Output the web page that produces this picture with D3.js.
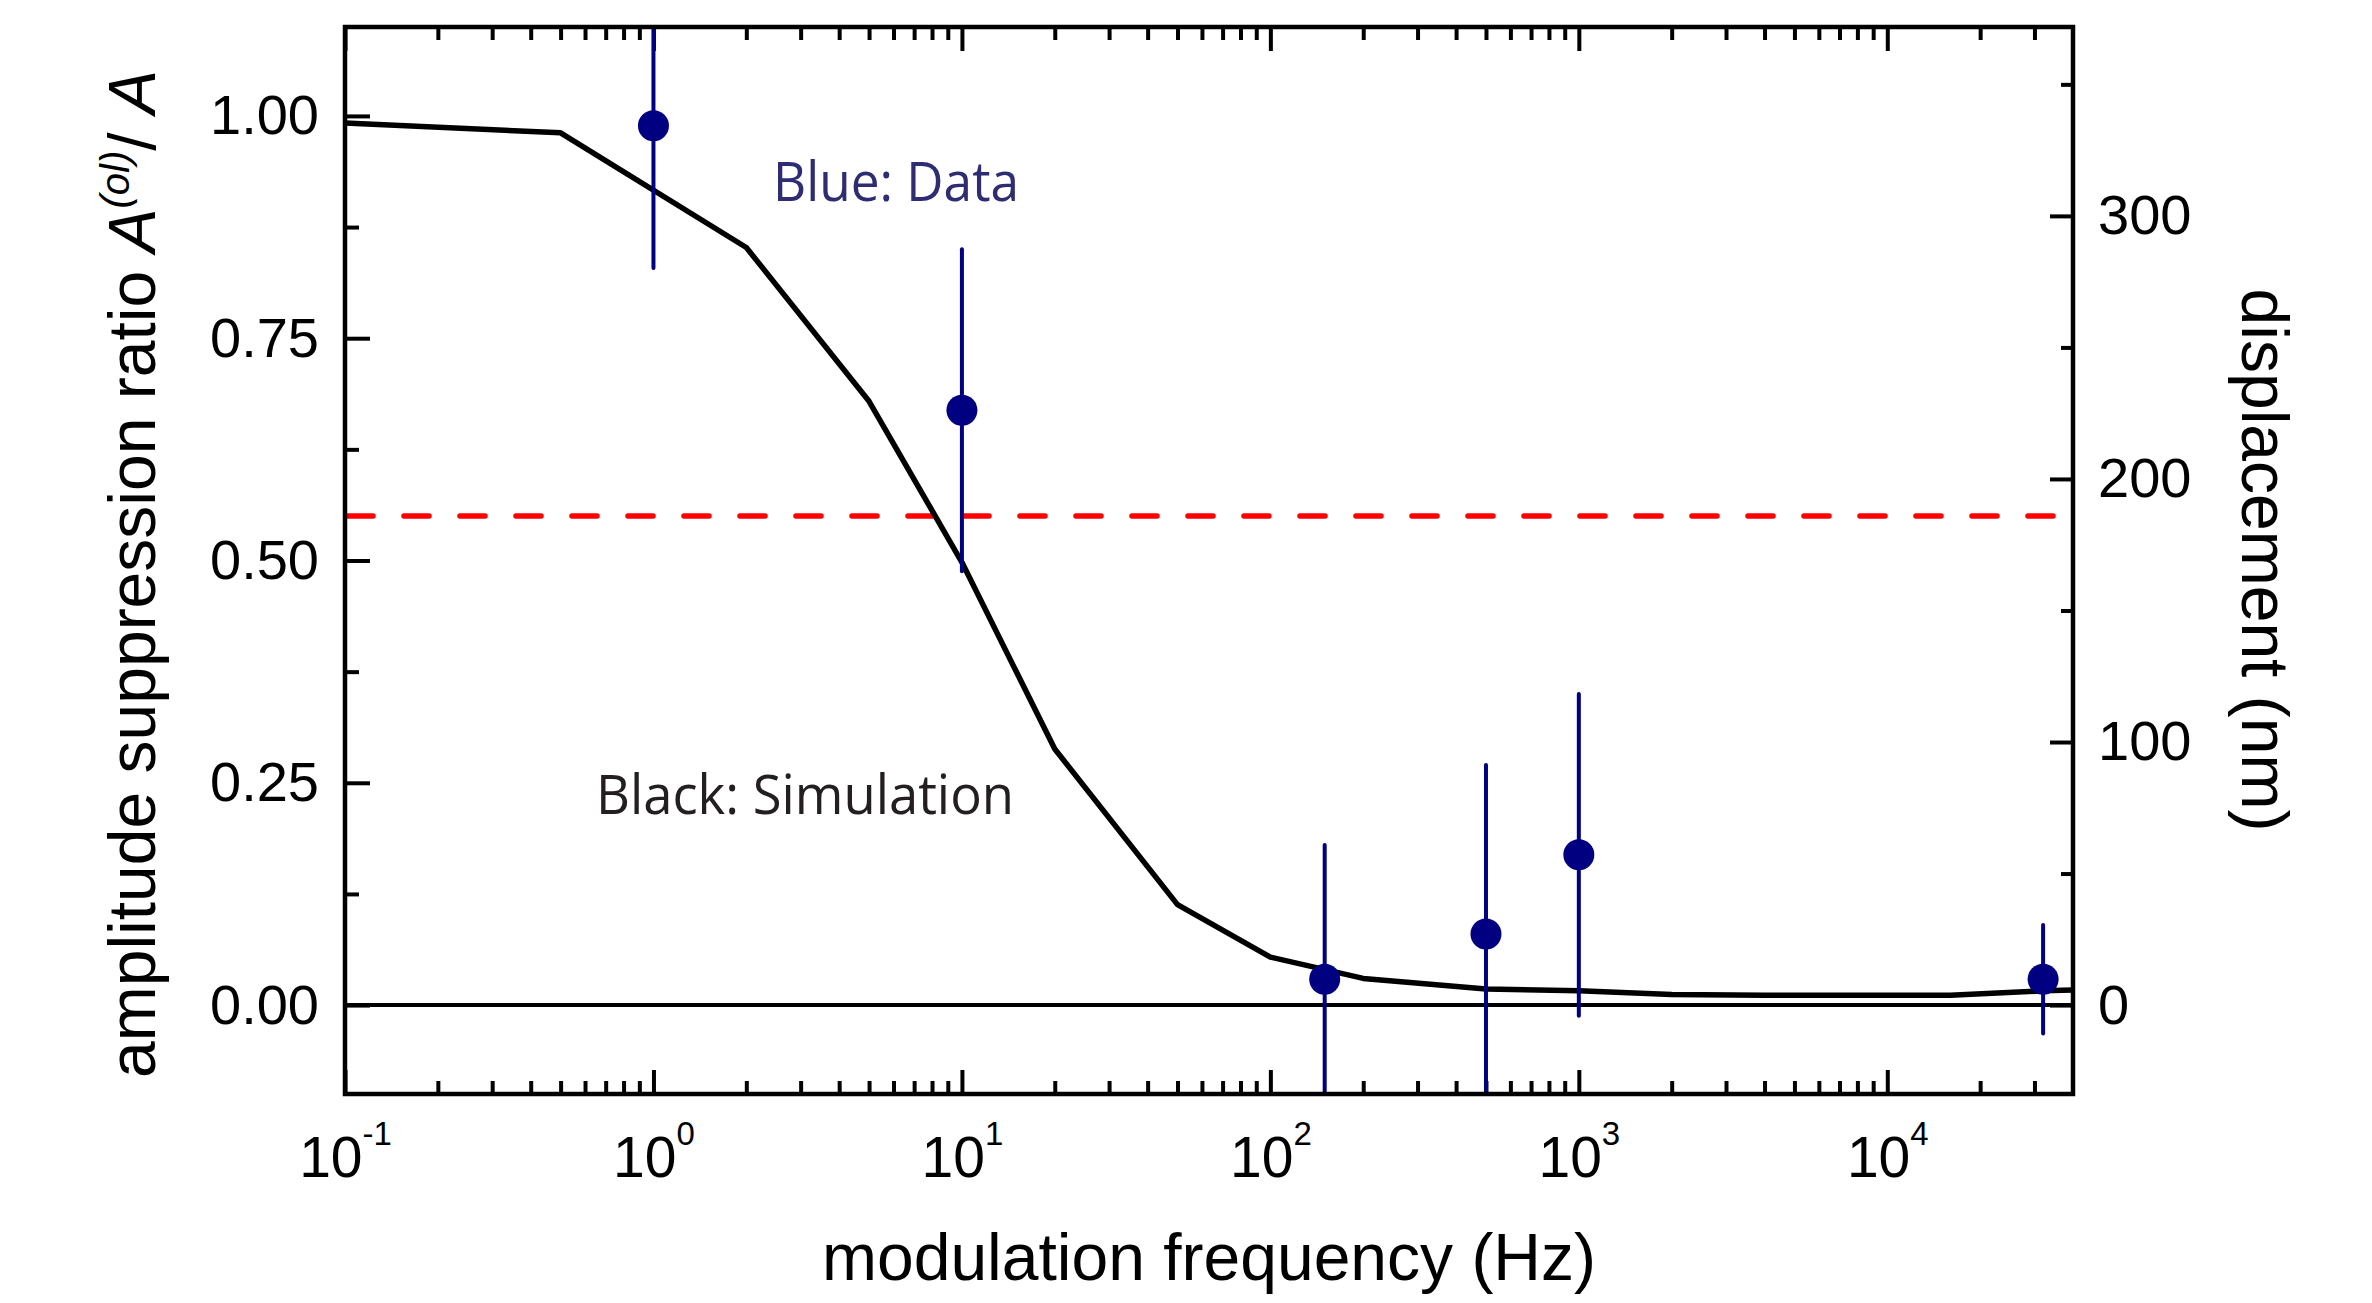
<!DOCTYPE html>
<html>
<head>
<meta charset="utf-8">
<script src="https://cdn.jsdelivr.net/npm/d3@7"></script>
<style>
  body { margin: 0; background: #fff; }
  text { font-family: "Liberation Sans", Arial, sans-serif; }
  .note { font-family: "Open Sans", "Noto Sans", sans-serif; }
</style>
</head>
<body>
<div id="container"></div>
<script>
const w = 2372;
const h = 1303;

// measured points (blue)
const dataFreq = [1, 10, 150, 500, 1000, 32000];
const dataRatio = [0.989, 0.669, 0.029, 0.080, 0.169, 0.029];
const dataErr = [0.16, 0.181, 0.151, 0.19, 0.181, 0.061];

// simulation curve (black)
const simFreq = [0.1, 0.5, 2, 5, 10, 20, 50, 100, 200, 500, 1000, 2000, 4000, 16000, 32000, 40000];
const simRatio = [0.992, 0.981, 0.852, 0.679, 0.498, 0.288, 0.113, 0.054, 0.030, 0.018, 0.016, 0.012, 0.011, 0.011, 0.016, 0.017];

const thresholdRatio = 0.55;

const xMajor = [0.1, 1, 10, 100, 1000, 10000];
const xExp = ["-1", "0", "1", "2", "3", "4"];
const yMajor = [0, 0.25, 0.5, 0.75, 1.0];
const yMinor = [0.125, 0.375, 0.625, 0.875];
const nmMajor = [0, 100, 200, 300];
const nmMinor = [50, 150, 250, 350];
const nmPerUnit = 338;

const pLeft = 345, pRight = 2073, pTop = 27, pBottom = 1094;

const x = d3.scaleLog().domain([0.1, 40000]).range([pLeft, pRight]);
const y = d3.scaleLinear().domain([-0.1, 1.1]).range([pBottom, pTop]);
const yNm = d3.scaleLinear().domain([-0.1 * nmPerUnit, 1.1 * nmPerUnit]).range([pBottom, pTop]);

const xMinor = [];
xMajor.forEach(d => {
  for (let k = 2; k <= 9; k++) {
    if (d * k < 40000) xMinor.push(d * k);
  }
});

const svg = d3.select("#container")
  .append("svg")
  .attr("width", w)
  .attr("height", h);

svg.append("defs").append("clipPath")
  .attr("id", "plot")
  .append("rect")
  .attr("x", pLeft).attr("y", pTop)
  .attr("width", pRight - pLeft).attr("height", pBottom - pTop);

function styleAxis(g) {
  g.select(".domain").remove();
  g.selectAll(".tick line").attr("stroke", "#000").attr("stroke-width", 4);
  g.selectAll(".tick text").attr("fill", "#000");
}

// bottom
svg.append("g")
  .attr("transform", "translate(0," + pBottom + ")")
  .call(d3.axisBottom(x).tickValues(xMinor).tickSizeInner(-13).tickSizeOuter(0).tickFormat(""))
  .call(styleAxis);

const xAxisG = svg.append("g")
  .attr("transform", "translate(0," + pBottom + ")")
  .call(d3.axisBottom(x).tickValues(xMajor).tickSizeInner(-24).tickSizeOuter(0))
  .call(styleAxis);

xAxisG.selectAll(".tick text")
  .text(null)
  .attr("y", 83)
  .attr("dy", null)
  .style("font-size", "57px")
  .each(function (d, i) {
    const t = d3.select(this);
    t.append("tspan").text("10");
    t.append("tspan").text(xExp[i]).style("font-size", "33px").attr("dy", -32);
  });

// top (mirror)
svg.append("g")
  .attr("transform", "translate(0," + pTop + ")")
  .call(d3.axisTop(x).tickValues(xMinor).tickSizeInner(-13).tickSizeOuter(0).tickFormat(""))
  .call(styleAxis);
svg.append("g")
  .attr("transform", "translate(0," + pTop + ")")
  .call(d3.axisTop(x).tickValues(xMajor).tickSizeInner(-24).tickSizeOuter(0).tickFormat(""))
  .call(styleAxis);

// left
svg.append("g")
  .attr("transform", "translate(" + pLeft + ",0)")
  .call(d3.axisLeft(y).tickValues(yMinor).tickSizeInner(-14).tickSizeOuter(0).tickFormat(""))
  .call(styleAxis);
svg.append("g")
  .attr("transform", "translate(" + pLeft + ",0)")
  .call(d3.axisLeft(y).tickValues(yMajor).tickSizeInner(-25).tickSizeOuter(0).tickPadding(26).tickFormat(d3.format(".2f")))
  .call(styleAxis)
  .selectAll(".tick text")
  .style("font-size", "56px");

// right
svg.append("g")
  .attr("transform", "translate(" + pRight + ",0)")
  .call(d3.axisRight(yNm).tickValues(nmMinor).tickSizeInner(-12).tickSizeOuter(0).tickFormat(""))
  .call(styleAxis);
svg.append("g")
  .attr("transform", "translate(" + pRight + ",0)")
  .call(d3.axisRight(yNm).tickValues(nmMajor).tickSizeInner(-23).tickSizeOuter(0).tickPadding(25))
  .call(styleAxis)
  .selectAll(".tick text")
  .style("font-size", "56px");

const plot = svg.append("g").attr("clip-path", "url(#plot)");

// zero line
plot.append("line")
  .attr("x1", pLeft).attr("x2", pRight)
  .attr("y1", y(0)).attr("y2", y(0))
  .attr("stroke", "#000")
  .attr("stroke-width", 4);

// threshold
plot.append("line")
  .attr("x1", pLeft + 3).attr("x2", pRight)
  .attr("y1", y(thresholdRatio)).attr("y2", y(thresholdRatio))
  .attr("stroke", "#ff0000")
  .attr("stroke-width", 5.5)
  .attr("stroke-linecap", "round")
  .attr("stroke-dasharray", "25,31");

const sim = simFreq.map((f, i) => [f, simRatio[i]]);
plot.append("path")
  .datum(sim)
  .attr("fill", "none")
  .attr("stroke", "#000")
  .attr("stroke-width", 5.5)
  .attr("stroke-linejoin", "round")
  .attr("d", d3.line().x(d => x(d[0])).y(d => y(d[1])));

const pts = dataFreq.map((f, i) => ({ f: f, v: dataRatio[i], e: dataErr[i] }));

plot.selectAll(".err")
  .data(pts)
  .enter()
  .append("line")
  .attr("class", "err")
  .attr("x1", d => x(d.f)).attr("x2", d => x(d.f))
  .attr("y1", d => y(d.v - d.e)).attr("y2", d => y(d.v + d.e))
  .attr("stroke", "#000080")
  .attr("stroke-width", 4)
  .attr("stroke-linecap", "round");

plot.selectAll(".dot")
  .data(pts)
  .enter()
  .append("circle")
  .attr("class", "dot")
  .attr("cx", d => x(d.f))
  .attr("cy", d => y(d.v))
  .attr("r", 15.5)
  .attr("fill", "#000080");

// frame
svg.append("rect")
  .attr("x", pLeft).attr("y", pTop)
  .attr("width", pRight - pLeft).attr("height", pBottom - pTop)
  .attr("fill", "none")
  .attr("stroke", "#000")
  .attr("stroke-width", 4.5);

// annotations
svg.append("text")
  .attr("class", "note")
  .attr("x", 773).attr("y", 201)
  .attr("textLength", 246)
  .attr("lengthAdjust", "spacingAndGlyphs")
  .style("font-size", "54px")
  .attr("fill", "#2e2d72")
  .text("Blue: Data");

svg.append("text")
  .attr("class", "note")
  .attr("x", 596).attr("y", 814)
  .attr("textLength", 418)
  .attr("lengthAdjust", "spacingAndGlyphs")
  .style("font-size", "54px")
  .attr("fill", "#231f20")
  .text("Black: Simulation");

// axis titles
svg.append("text")
  .attr("x", (pLeft + pRight) / 2)
  .attr("y", 1280)
  .attr("text-anchor", "middle")
  .style("font-size", "66px")
  .text("modulation frequency (Hz)");

const yt = svg.append("text")
  .attr("transform", "translate(155,574) rotate(-90)")
  .attr("text-anchor", "middle")
  .style("font-size", "66px");
yt.append("tspan").text("amplitude suppression ratio ");
yt.append("tspan").text("A").style("font-style", "italic");
yt.append("tspan").text("(ol)").style("font-style", "italic").style("font-size", "40px").attr("dy", -26);
yt.append("tspan").text("/ ").attr("dy", 26);
yt.append("tspan").text("A").style("font-style", "italic");

svg.append("text")
  .attr("transform", "translate(2242,560) rotate(90)")
  .attr("text-anchor", "middle")
  .style("font-size", "66px")
  .text("displacement (nm)");
</script>
</body>
</html>
